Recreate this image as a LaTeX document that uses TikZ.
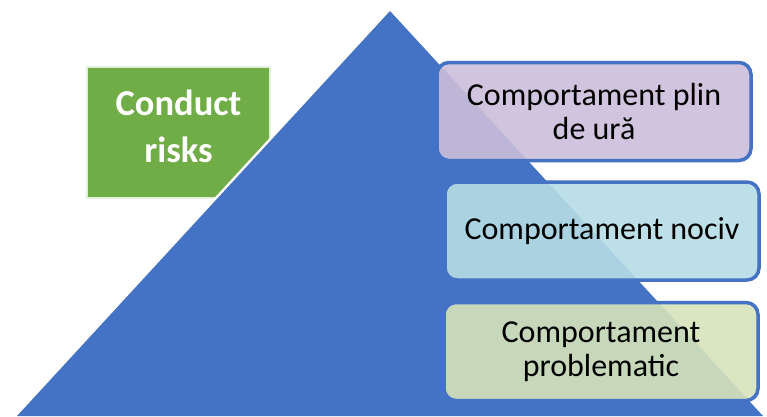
\documentclass[tikz,border=0pt]{standalone}
\usepackage{fontspec}
\setmainfont{Carlito}
\usetikzlibrary{positioning}
\definecolor{pyrblue}{HTML}{4472C4}
\definecolor{riskgreen}{HTML}{70AD47}
\definecolor{hatefill}{RGB}{203,190,218}
\definecolor{harmfill}{RGB}{182,221,229}
\definecolor{probfill}{RGB}{214,226,186}

\begin{document}
\begin{tikzpicture}[x=1pt, y=-1pt,
  level/.style={draw=pyrblue, line width=3.5pt, rounded corners=12pt,
                fill opacity=0.9, draw opacity=1, text opacity=1,
                minimum width=314pt, minimum height=98pt, inner sep=0pt,
                align=center, font=\fontsize{32}{34}\selectfont},
  tag/.style={draw=riskgreen!20, line width=2pt, fill=riskgreen, text=white,
              minimum width=183pt, minimum height=131pt, align=center,
              font=\fontsize{36.5}{47}\selectfont\bfseries}]
\useasboundingbox (0,0) rectangle (767,416);
\node[tag, text depth=12pt] (risks) at (178.5,132.5) {Conduct\\ risks};
% pyramid
\draw[white, line width=5pt, line join=round] (390,11) -- (763,416) -- (17,416) -- cycle;
\fill[pyrblue] (390,11) -- (763,416) -- (17,416) -- cycle;
\node[level, fill=hatefill] (hate) at (594,111.5) {Comportament plin\\ de ură};
\node[level, fill=harmfill, below=18pt of hate, xshift=8pt] (harm) {Comportament nociv};
\node[level, fill=probfill, below=19pt of harm, xshift=-1pt] (prob) {Comportament\\ problematic};
\end{tikzpicture}
\end{document}
